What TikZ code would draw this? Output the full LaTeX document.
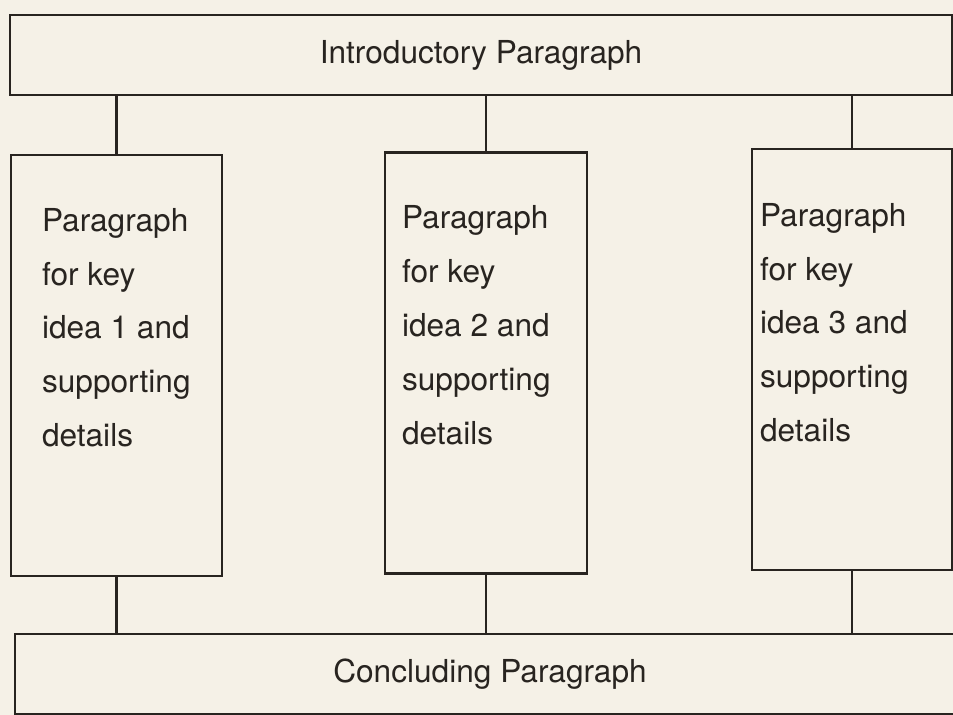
\documentclass[tikz,border=0pt]{standalone}
\usepackage{fontspec}
\setmainfont{TeX Gyre Heros}
\definecolor{paper}{RGB}{245,241,231}
\definecolor{ink}{RGB}{40,36,32}

\begin{document}
\begin{tikzpicture}[x=0.02cm,y=-0.02cm,line width=1.4pt,draw=ink]
\tikzstyle{every node}=[draw=ink,rectangle,inner sep=0pt,text=ink,font=\fontsize{18}{30.7}\selectfont]
\tikzstyle{keybox}=[minimum height=8.42cm]
\tikzstyle{keytext}=[draw=none,align=left,anchor=north west]
\fill[paper] (0,0) rectangle (953,715);
\useasboundingbox (0,0) rectangle (953,715);

% top and bottom paragraphs
\node[minimum width=18.84cm,minimum height=1.6cm] (intro) at (481,55) {Introductory Paragraph};
\node[minimum width=19cm,minimum height=1.6cm] (concl) at (490,674) {Concluding Paragraph};

% the three key ideas
\node[keybox,minimum width=4.22cm] (key1) at (116.5,365.5) {};
\node[keybox,minimum width=4.04cm] (key2) at (486,363) {};
\node[keybox,minimum width=4.0cm] (key3) at (852,359.5) {};
\node[keytext] (key1text) at ([shift={(31,53)}]key1.north west) {Paragraph\\for key\\idea 1 and\\supporting\\details};
\node[keytext] (key2text) at ([shift={(17,53)}]key2.north west) {Paragraph\\for key\\idea 2 and\\supporting\\details};
\node[keytext] (key3text) at ([shift={(8,54)}]key3.north west) {Paragraph\\for key\\idea 3 and\\supporting\\details};

\foreach \k in {key1,key2,key3}{
	\draw (intro.south -| \k) -- (\k.north);
	\draw (\k.south) -- (\k.south |- concl.north);
}
\end{tikzpicture}
\end{document}
